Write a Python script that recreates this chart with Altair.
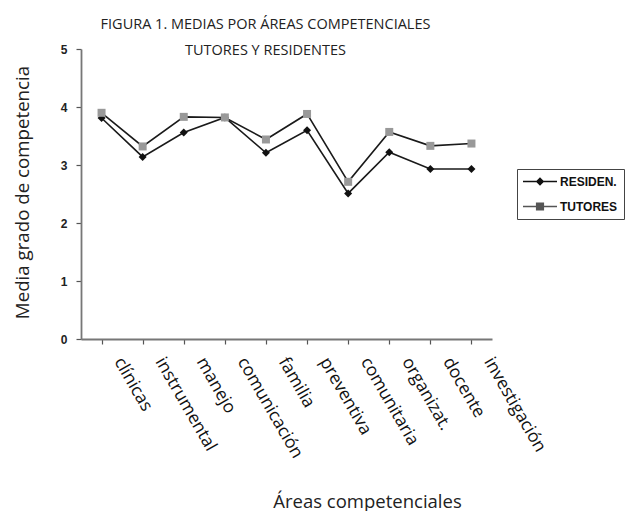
import altair as alt
import pandas as pd

categorias = ["clínicas", "instrumental", "manejo", "comunicación", "familia",
              "preventiva", "comunitaria", "organizat.", "docente", "investigación"]
residentes = [3.81, 3.14, 3.56, 3.82, 3.21, 3.60, 2.51, 3.22, 2.93, 2.93]
tutores = [3.90, 3.32, 3.83, 3.82, 3.44, 3.88, 2.71, 3.57, 3.33, 3.37]
series = ["RESIDEN.", "TUTORES"]
y_ticks = [0, 1, 2, 3, 4, 5]

rows = []
for s, vals in zip(series, [residentes, tutores]):
    for c, v in zip(categorias, vals):
        rows.append({"area": c, "serie": s, "valor": v})
df = pd.DataFrame(rows)

FONT = "Open Sans"
BOLD = "Liberation Sans"

x_enc = alt.X(
    "area:N", sort=categorias,
    scale=alt.Scale(paddingInner=0, paddingOuter=0),
    axis=alt.Axis(
        title="Áreas competenciales", bandPosition=1,
        labelAngle=60, labelAlign="left", labelBaseline="top",
        labelPadding=10, labelOffset=24,
        labelFont=FONT, labelFontSize=17.5, labelColor="#111",
        labelOverlap=False, labelBound=False, labelFlush=False, labelLimit=0,
        tickSize=5, tickColor="#555", tickWidth=1.2,
        domainColor="#777", domainWidth=1.8,
        titleFont=FONT, titleFontSize=18.5, titleFontWeight="normal", titleColor="#222",
        titleX=286, titleY=168, titleAlign="center", titleBaseline="alphabetic",
    ),
)
y_enc = alt.Y(
    "valor:Q", scale=alt.Scale(domain=[0, 5], nice=False),
    axis=alt.Axis(
        title="Media grado de competencia", values=y_ticks, format="d",
        labelFont=BOLD, labelFontWeight="bold", labelFontSize=12, labelColor="#222",
        labelPadding=9, tickSize=5, tickColor="#555", tickWidth=1.2,
        domainColor="#777", domainWidth=1.8, grid=False,
        titleFont=FONT, titleFontSize=18.7, titleFontWeight="normal", titleColor="#222",
        titleX=-53, titleY=143, titleAngle=270, titleAlign="center",
        titleBaseline="alphabetic",
    ),
)

lineas = alt.Chart(df).mark_line(color="#1a1a1a", strokeWidth=1.6).encode(
    x=x_enc, y=y_enc, detail="serie:N"
)

puntos = alt.Chart(df).mark_point(filled=True, size=64, opacity=1, strokeWidth=0).encode(
    x=x_enc, y=y_enc,
    shape=alt.Shape("serie:N", scale=alt.Scale(domain=series, range=["diamond", "square"]), legend=None),
    fill=alt.Fill("serie:N", scale=alt.Scale(domain=series, range=["#111111", "#999999"]), legend=None),
)

legend_paths = [
    "M-1,-0.04H1V0.04H-1Z M0,-0.25L0.25,0L0,0.25L-0.25,0Z",
    "M-1,-0.04H1V0.04H-1Z M-0.24,-0.24H0.24V0.24H-0.24Z",
]
leg = dict(title=None, orient="none", legendX=436, legendY=120,
           symbolSize=1156, symbolStrokeWidth=0,
           labelFont=BOLD, labelFontWeight="bold", labelFontSize=12,
           labelColor="#111", labelOffset=3,
           strokeColor="#444", fillColor="white", padding=6,
           rowPadding=12, clipHeight=13)
leyenda = alt.Chart(df).mark_point(filled=True, size=1156, opacity=1, strokeWidth=0).encode(
    x=x_enc, y=y_enc,
    shape=alt.Shape("serie:N", scale=alt.Scale(domain=series, range=legend_paths),
                    legend=alt.Legend(**leg)),
    fill=alt.Fill("serie:N", scale=alt.Scale(domain=series, range=["#111111", "#555555"]),
                  legend=alt.Legend(**leg)),
).transform_filter("false")

chart = alt.layer(lineas, puntos, leyenda).resolve_scale(
    shape="independent", fill="independent"
).properties(
    width=411, height=290,
    padding={"left": 81, "top": 49, "right": 141, "bottom": 172},
    autosize=alt.AutoSizeParams(type="none"),
    background="white",
    title=alt.Title(
        text=["FIGURA 1. MEDIAS POR ÁREAS COMPETENCIALES", "TUTORES Y RESIDENTES"],
        font=FONT, fontSize=14.5, fontWeight="normal", color="#222",
        lineHeight=26, anchor="middle", frame="group", dx=-21, offset=-15,
    ),
).configure_view(strokeWidth=0, stroke="transparent")

chart.save("out.html", embed_options={"renderer": "svg", "actions": False})
